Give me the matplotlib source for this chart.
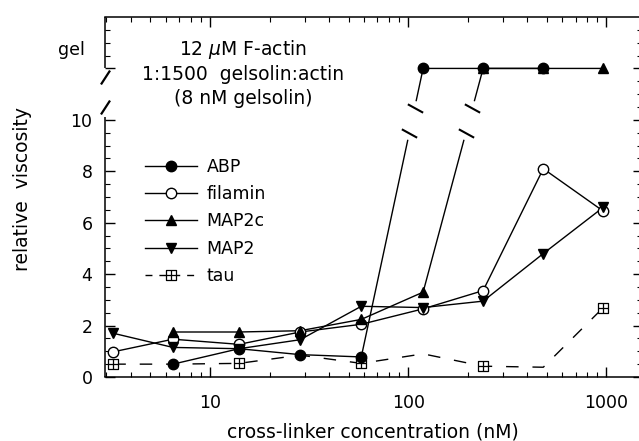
import numpy as np
import matplotlib
matplotlib.use('Agg')
import matplotlib.pyplot as plt
from matplotlib.path import Path
from matplotlib.lines import Line2D
from matplotlib.ticker import FixedLocator, FixedFormatter, LogLocator, NullFormatter

plt.rcParams['font.family'] = ['DejaVu Sans']

# ---------------- data ----------------
conc = [3.25, 6.5, 14, 28.5, 58, 119, 239, 481, 966]   # nM
GEL = 12

abp_x = conc[1:8]
abp_y = [0.5, 1.1, 0.87, 0.78, GEL, GEL, GEL]

filamin_x = conc
filamin_y = [0.98, 1.47, 1.27, 1.75, 2.05, 2.65, 3.36, 8.1, 6.45]

map2c_x = conc[1:]
map2c_y = [1.75, 1.75, 1.8, 2.24, 3.3, GEL, GEL, GEL]

map2_x = conc
map2_y = [1.7, 1.15, 1.1, 1.45, 2.75, 2.7, 2.95, 4.8, 6.6]

tau_x = conc
tau_y = [0.5, 0.5, 0.53, 0.85, 0.53, 0.9, 0.42, 0.38, 2.7]
tau_marked = [0, 2, 4, 6, 8]

ytick_vals = [0, 2, 4, 6, 8, 10, 12]
ytick_labels = ['0', '2', '4', '6', '8', '10', '']
xtick_vals = [10, 100, 1000]
xtick_labels = ['10', '100', '1000']

# break in the y axis (values between these are skipped)
BRK_LO, BRK_HI = 9.2, 10.75
MARK_LO, MARK_HI = 9.5, 10.45

# ---------------- figure ----------------
W, H = 639, 441
fig = plt.figure(figsize=(W / 100, H / 100), dpi=100)
ax = fig.add_axes([105 / W, 64 / H, 535 / W, 360 / H])
ax.set_xscale('log')
ax.set_xlim(2.95, 1480)
ax.set_ylim(0, 14)

LW = 1.0


def broken(xs, ys):
    ox, oy = [], []
    for i in range(len(xs)):
        if i > 0 and ys[i - 1] < BRK_LO and ys[i] > BRK_HI:
            l0, l1 = np.log10(xs[i - 1]), np.log10(xs[i])
            for yy in (BRK_LO, None, BRK_HI):
                if yy is None:
                    ox.append(np.nan); oy.append(np.nan)
                    continue
                t = (yy - ys[i - 1]) / (ys[i] - ys[i - 1])
                ox.append(10 ** (l0 + t * (l1 - l0))); oy.append(yy)
        ox.append(xs[i]); oy.append(ys[i])
    return ox, oy


def break_marks(xs, ys):
    mx, my = [], []
    for i in range(1, len(xs)):
        if ys[i - 1] < BRK_LO and ys[i] > BRK_HI:
            l0, l1 = np.log10(xs[i - 1]), np.log10(xs[i])
            for yy in (MARK_LO, MARK_HI):
                t = (yy - ys[i - 1]) / (ys[i] - ys[i - 1])
                mx.append(10 ** (l0 + t * (l1 - l0))); my.append(yy)
    return mx, my


slash_data = Path([(-1, 0.55), (1, -0.55)], [Path.MOVETO, Path.LINETO])
slash_axis = Path([(-0.65, -1), (0.65, 1)], [Path.MOVETO, Path.LINETO])
boxplus = Path([(-1, -1), (1, -1), (1, 1), (-1, 1), (-1, -1),
                (0, -1), (0, 1), (-1, 0), (1, 0)],
               [Path.MOVETO, Path.LINETO, Path.LINETO, Path.LINETO, Path.CLOSEPOLY,
                Path.MOVETO, Path.LINETO, Path.MOVETO, Path.LINETO])

series = [
    ('ABP', abp_x, abp_y, dict(marker='o', mfc='black', ms=7.5)),
    ('filamin', filamin_x, filamin_y, dict(marker='o', mfc='white', ms=7.5)),
    ('MAP2c', map2c_x, map2c_y, dict(marker='^', mfc='black', ms=7)),
    ('MAP2', map2_x, map2_y, dict(marker='v', mfc='black', ms=7)),
]

handles = []
for name, xs, ys, st in series:
    bx, by = broken(xs, ys)
    ax.plot(bx, by, color='black', lw=LW, zorder=2)
    ax.plot(xs, ys, ls='none', color='black', mec='black', mew=1.0, zorder=3, **st)
    mx, my = break_marks(xs, ys)
    if mx:
        ax.plot(mx, my, ls='none', marker=slash_data, ms=11, mew=1.5,
                color='black', zorder=3)
    handles.append(Line2D([], [], color='black', lw=LW, mec='black', mew=1.0, **st))

ax.plot(tau_x, tau_y, color='black', lw=LW, dashes=(9, 10), marker=boxplus,
        ms=6.5, mfc='white', mec='black', mew=0.9, markevery=tau_marked, zorder=2)
handles.append(Line2D([], [], color='black', lw=LW, dashes=(5, 5), marker=boxplus,
                      ms=6.5, mfc='white', mec='black', mew=0.9))
labels = ['ABP', 'filamin', 'MAP2c', 'MAP2', 'tau']

leg = ax.legend(handles, labels, loc='upper left',
                bbox_to_anchor=((145 - 105) / 535, (377 - 158) / 360),
                frameon=False, fontsize=12.5, handlelength=3.0,
                handletextpad=0.55, labelspacing=0.53, borderpad=0,
                borderaxespad=0)

# ---------------- axes / ticks ----------------
for s in ['left', 'right']:
    ax.spines[s].set_visible(False)
for s in ['top', 'bottom']:
    ax.spines[s].set_linewidth(1.1)

ytr = ax.get_yaxis_transform()
ax.plot([0, 0], [0, 10.1], transform=ytr, color='black', lw=1.1, clip_on=False,
        solid_capstyle='butt')
ax.plot([0, 0], [12, 14], transform=ytr, color='black', lw=1.1, clip_on=False,
        solid_capstyle='butt')
ax.plot([0, 0], [11.65, 10.5], transform=ytr, ls='none', marker=slash_axis,
        ms=10, mew=1.6, color='black', clip_on=False)

ax.xaxis.set_major_locator(FixedLocator(xtick_vals))
ax.xaxis.set_major_formatter(FixedFormatter(xtick_labels))
ax.xaxis.set_minor_locator(LogLocator(base=10, subs=np.arange(2, 10)))
ax.xaxis.set_minor_formatter(NullFormatter())

minor_left = [v for v in np.arange(0.5, 14, 0.5)
              if v not in ytick_vals and not (10 < v < 12)]
ax.yaxis.set_major_locator(FixedLocator(ytick_vals))
ax.yaxis.set_major_formatter(FixedFormatter(ytick_labels))
ax.yaxis.set_minor_locator(FixedLocator(minor_left))

ax.tick_params(axis='x', which='both', direction='in', top=True, bottom=True,
               labelsize=12.5, pad=12)
ax.tick_params(axis='x', which='major', length=7, width=1.0)
ax.tick_params(axis='x', which='minor', length=3.5, width=0.8)
ax.tick_params(axis='y', which='both', direction='in', left=True, right=False,
               labelsize=12.5, pad=9)
ax.tick_params(axis='y', which='major', length=7, width=1.0)
ax.tick_params(axis='y', which='minor', length=3.5, width=0.8)

sec = ax.secondary_yaxis('right')
sec.spines['right'].set_visible(False)
sec.yaxis.set_major_locator(FixedLocator(ytick_vals))
sec.yaxis.set_minor_locator(FixedLocator([v for v in np.arange(0.5, 14, 0.5)
                                          if v not in ytick_vals]))
sec.yaxis.set_major_formatter(NullFormatter())
sec.tick_params(which='both', direction='in')
sec.tick_params(which='major', length=5, width=1.0)
sec.tick_params(which='minor', length=2, width=0.8)

ax.text(-0.037, 12.72, 'gel', transform=ytr, ha='right', va='center', fontsize=12.5)

ax.set_xlabel('cross-linker concentration (nM)', fontsize=13.5)
ax.xaxis.set_label_coords(0.5, -(432 - 377) / 360)
ax.xaxis.label.set_va('center')
ax.set_ylabel('relative  viscosity', fontsize=13.5)
ax.yaxis.set_label_coords((22 - 105) / 535, (377 - 189) / 360)
ax.yaxis.label.set_va('center')

ax.text((243 - 105) / 535, (377 - 73) / 360,
        '12 $\\mu$M F-actin\n1:1500  gelsolin:actin\n(8 nM gelsolin)',
        transform=ax.transAxes, ha='center', va='center', fontsize=13.5,
        linespacing=1.3)

fig.savefig('out.png', dpi=100, facecolor='white')
